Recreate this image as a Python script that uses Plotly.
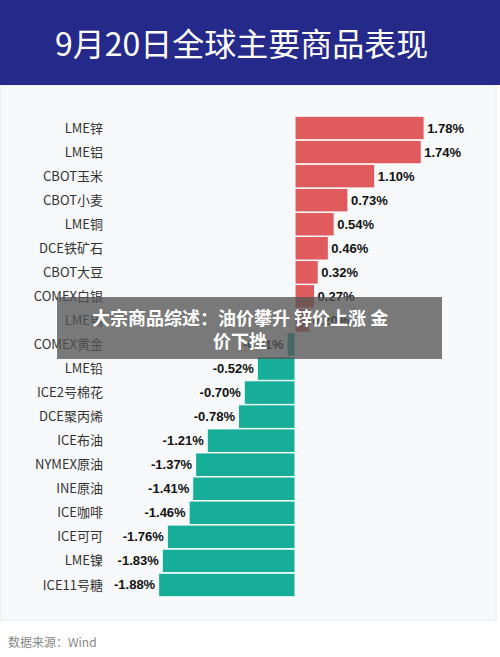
import plotly.graph_objects as go

categories = ["LME锌","LME铝","CBOT玉米","CBOT小麦","LME铜","DCE铁矿石","CBOT大豆","COMEX白银","LME锡","COMEX黄金",
              "LME铅","ICE2号棉花","DCE聚丙烯","ICE布油","NYMEX原油","INE原油","ICE咖啡","ICE可可","LME镍","ICE11号糖"]
values = [1.78,1.74,1.10,0.73,0.54,0.46,0.32,0.27,0.20,-0.11,
          -0.52,-0.70,-0.78,-1.21,-1.37,-1.41,-1.46,-1.76,-1.83,-1.88]

W, H = 500, 657
L, R, T, B = 110, 20, 116, 60
pw, ph = W-L-R, H-T-B
def px(x): return (x-L)/pw
def py(y): return (H-B-y)/ph

colors = ["#e05b5e" if v >= 0 else "#17ae99" for v in values]
fig = go.Figure(go.Bar(
    x=values, y=categories, orientation="h",
    marker=dict(color=colors, line=dict(color="white", width=1)),
    text=[f"<b>{v:.2f}%</b>" for v in values], textposition="outside",
    textfont=dict(size=13, color="#111", family="Liberation Sans, Arial"),
    cliponaxis=False,
))
fig.update_layout(
    width=W, height=H, margin=dict(l=L, r=R, t=T, b=B),
    paper_bgcolor="white", plot_bgcolor="rgba(0,0,0,0)",
    bargap=0.02, showlegend=False,
    font=dict(family="Noto Sans CJK SC, Arial", color="#333"),
    xaxis=dict(range=[-2.55, 2.55], visible=False),
    yaxis=dict(autorange="reversed", showgrid=False, ticks="", tickfont=dict(size=13, color="#333"),
               ticklabelstandoff=6),
    shapes=[
        dict(type="rect", xref="paper", yref="paper", x0=px(0), x1=px(496), y0=py(620), y1=py(85),
             fillcolor="#f8f9fb", line=dict(color="#e8e8ec", width=1), layer="below"),
        dict(type="rect", xref="paper", yref="paper", x0=px(0), x1=px(500), y0=py(85), y1=py(0),
             fillcolor="#24298a", line=dict(width=0), layer="below"),
        dict(type="rect", xref="paper", yref="paper", x0=px(57), x1=px(442), y0=py(359), y1=py(297),
             fillcolor="rgba(85,85,85,0.78)", line=dict(width=0), layer="above"),
    ],
    annotations=[
        dict(text="9月20日全球主要商品表现", xref="paper", yref="paper", x=px(241), y=py(42),
             xanchor="center", yanchor="middle",
             showarrow=False, font=dict(size=32, color="white", family="Noto Sans CJK SC")),
        dict(text="<b>大宗商品综述：油价攀升 锌价上涨 金</b><br><b>价下挫</b>", xref="paper", yref="paper",
             x=px(240), y=py(328), xanchor="center", yanchor="middle", showarrow=False, align="center",
             font=dict(size=18, color="white", family="Noto Sans CJK SC")),
        dict(text="数据来源：Wind", xref="paper", yref="paper", x=px(6), y=py(641), xanchor="left",
             yanchor="middle", showarrow=False, font=dict(size=12, color="#888")),
    ],
)
fig.write_html("out.html", post_script="document.body.style.margin='0';",
               config={"displayModeBar": False})
